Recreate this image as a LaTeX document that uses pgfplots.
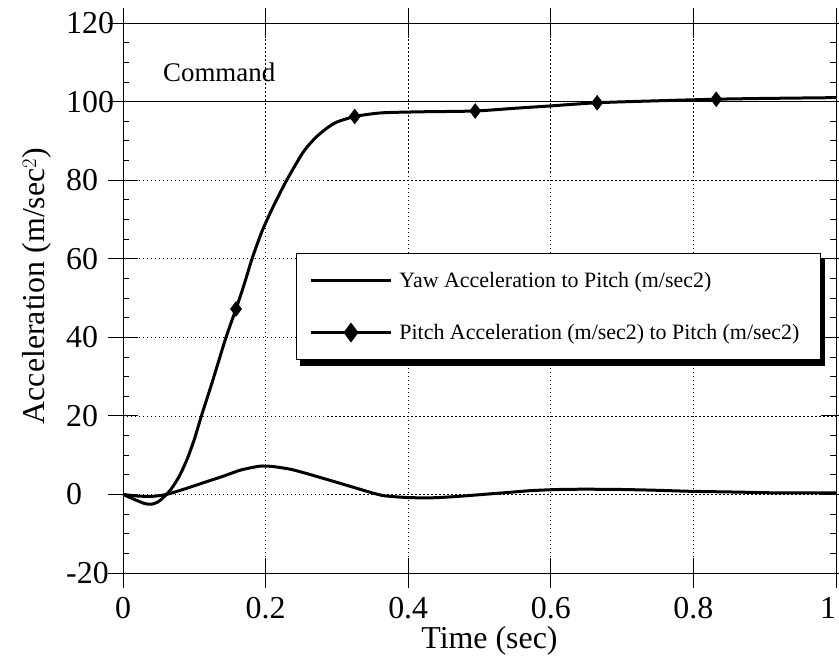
\documentclass[border=0pt]{standalone}
\usepackage{pgfplots}
\pgfplotsset{compat=1.18}
\usepackage{fontspec}
\setmainfont{Liberation Serif}

\pgfplotstableread{
x y
0 0
0.015 -1.2
0.03 -2.3
0.04 -2.5
0.05 -1.8
0.061 0
0.07 2
0.08 5
0.09 9
0.10 14
0.11 20
0.125 28.5
0.1445 40
0.1585 47.2
0.17 53.5
0.181 60
0.195 67
0.21 73
0.2296 80
0.253 87.2
0.27 90.8
0.2857 93.2
0.30 94.8
0.325 96.2
0.35 96.9
0.37 97.2
0.42 97.4
0.494 97.6
0.55 98.3
0.60 98.9
0.665 99.7
0.75 100.2
0.832 100.6
0.90 100.8
1.0 101
}\pitch

\pgfplotstableread{
x y
0 0
0.02 -0.4
0.04 -0.5
0.061 0
0.09 1.6
0.113 3.0
0.14 4.6
0.165 6.2
0.192 7.2
0.21 7.1
0.235 6.4
0.258 5.3
0.29 3.6
0.318 2.1
0.34 0.9
0.365 -0.3
0.40 -0.8
0.435 -0.85
0.47 -0.5
0.505 0
0.54 0.5
0.575 1.0
0.622 1.3
0.683 1.3
0.74 1.1
0.795 0.8
0.86 0.6
0.917 0.4
1.0 0.4
}\yaw

\begin{document}
\begin{tikzpicture}
\begin{axis}[
  name=ax,
  scale only axis,
  width=713bp, height=550bp,
  xmin=0, xmax=1, ymin=-20, ymax=120,
  xtick={0,0.2,0.4,0.6,0.8,1},
  xticklabels={0,0.2,0.4,0.6,0.8,\makebox[0pt][r]{1}},
  ytick={-20,0,20,40,60,80,100,120},
  yticklabels={-20,0,20,40,60,80,100,120},
  minor y tick num=3,
  tick align=inside,
  major tick length=15bp,
  minor tick length=6bp,
  every tick/.style={black, line width=0.8bp},
  extra x ticks={0,0.2,0.4,0.6,0.8,1},
  extra x tick labels={},
  extra y ticks={-20,0,20,40,60,80,100,120},
  extra y tick labels={},
  extra tick style={grid=none, tick align=outside, major tick length=15bp},
  axis line style={black, line width=0.8bp},
  grid=major,
  major grid style={black, line width=0.7bp, dash pattern=on 1.5bp off 2.5bp},
  ticklabel style={font=\fontsize{32}{38}\selectfont},
  yticklabel style={anchor=west, inner sep=0pt, xshift=-57bp},
  xticklabel style={anchor=north, inner sep=0pt, yshift=-24bp},
  xlabel={Time (sec)},
  ylabel={Acceleration (m/sec$^{2}$)},
  every axis x label/.style={at={(axis description cs:0.5,0)}, xshift=10bp, yshift=-75bp, anchor=base, font=\fontsize{32}{38}\selectfont},
  every axis y label/.style={at={(axis description cs:0,0.5)}, xshift=-78bp, yshift=12bp, rotate=90, anchor=base, font=\fontsize{32}{38}\selectfont},
  legend image code/.code={\draw[mark repeat=2,mark phase=2,#1] plot coordinates {(0bp,0bp) (40bp,0bp) (80bp,0bp)};},
  legend style={name=leg, at={(0.2426,0.5818)}, anchor=north west, draw=black, line width=1bp, fill=white,
    font=\fontsize{22}{26}\selectfont, inner xsep=13bp, inner ysep=17bp, row sep=31bp,
    cells={anchor=west}},
]
\addplot[black, line width=1bp, forget plot] coordinates {(0,100) (1,100)};
\addplot[black, line width=3bp, smooth, tension=0.4] table[x=x,y=y] {\yaw};
\addlegendentry{\hspace*{5bp}Yaw Acceleration to Pitch (m/sec2)}
\addplot[black, line width=3bp, smooth, tension=0.4, forget plot] table[x=x,y=y] {\pitch};
\addplot[only marks, mark=diamond*, mark size=7.5bp, black, forget plot] coordinates {(0.1585,47.2) (0.325,96.2) (0.494,97.6) (0.665,99.7) (0.832,100.6)};
\addlegendimage{black, line width=3bp, mark=diamond*, mark size=7.5bp}
\addlegendentry{\hspace*{5bp}Pitch Acceleration (m/sec2) to Pitch (m/sec2)\hspace*{6bp}}
\node[anchor=west, font=\fontsize{27}{32}\selectfont, inner sep=0pt] at (axis cs:0.056,107.5) {Command};
\end{axis}
\fill[black] ([yshift=-6bp]leg.north east) rectangle ([xshift=4bp,yshift=-6bp]leg.south east);
\fill[black] ([xshift=4bp]leg.south west) rectangle ([xshift=4bp,yshift=-6bp]leg.south east);
\pgfresetboundingbox
\path[use as bounding box] ([xshift=-123bp,yshift=-91bp]ax.south west) rectangle ([xshift=3bp,yshift=23bp]ax.north east);
\end{tikzpicture}
\end{document}
